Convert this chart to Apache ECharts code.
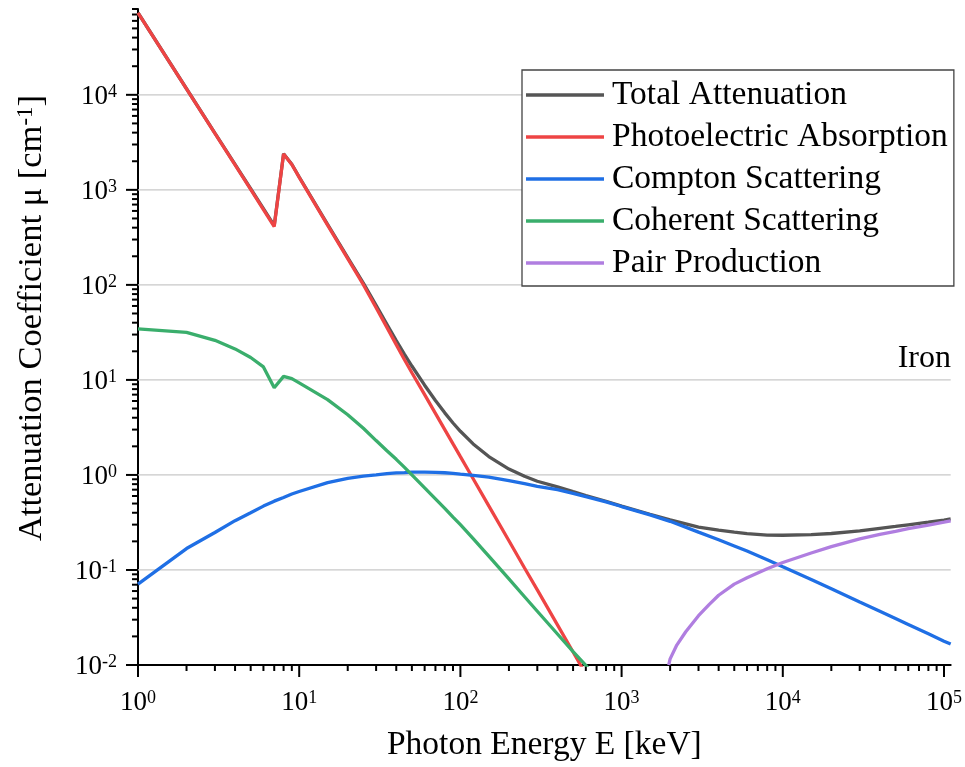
<!DOCTYPE html>
<html><head><meta charset="utf-8">
<script src="https://cdn.jsdelivr.net/npm/echarts@6/dist/echarts.min.js"></script>
<style>html,body{margin:0;padding:0;background:#fff}#c{width:965px;height:767px}</style>
</head><body><div id="c"></div>
<script>
const energy = [1,2,3,4,5,6,7,8,9,10,15,20,25,30,35,40,45,50,60,70,80,90,100,120,150,200,250,300,400,500,600,800,
  1000,1500,2000,3000,4000,5000,6000,8000,10000,15000,20000,30000,40000,50000,60000,80000,100000,110000];
const total = [73034,11582,3956,1851,1027,635,420,2401,1861,1365,433,194,104.6,60.8,38.5,26.0,18.6,14.0,8.8,6.08,4.5,3.52,2.88,2.12,1.56,1.154,0.967,0.858,0.748,0.667,0.608,0.529,
  0.469,0.386,0.337,0.283,0.262,0.250,0.241,0.233,0.232,0.236,0.242,0.258,0.274,0.287,0.299,0.318,0.335,0.345];
const photo = [73000,11550,3930,1830,1010,621,411,2390,1850,1355,426,189,100.5,57.5,35.7,23.5,16.3,11.9,7.0,4.45,3.0,2.12,1.556,0.912,0.473,0.203,0.105,0.0617,0.0264,0.0137,0.0080,null,
  null,null,null,null,null,null,null,null,null,null,null,null,null,null,null,null,null,null];
const compton = [0.071,0.168,0.248,0.33,0.40,0.47,0.53,0.58,0.63,0.67,0.83,0.92,0.97,1.0,1.03,1.05,1.06,1.07,1.07,1.065,1.055,1.04,1.02,0.99,0.95,0.87,0.81,0.76,0.70,0.64,0.59,0.52,
  0.465,0.38,0.325,0.25,0.208,0.179,0.158,0.128,0.108,0.0795,0.0634,0.046,0.0367,0.0308,0.0267,0.0213,0.0178,0.0166];
const coherent = [34.4,31.7,26.1,21.2,17.2,13.7,8.26,10.9,10.3,9.3,6.2,4.3,3.1,2.3,1.8,1.46,1.2,1.0,0.73,0.56,0.445,0.36,0.30,0.214,0.140,0.0805,0.0523,0.0368,0.0212,0.0138,0.0099,0.0057,
  null,null,null,null,null,null,null,null,null,null,null,null,null,null,null,null,null,null];
const pairEnergy = [1960,2000,2200,2500,3000,3500,4000,5000,6000,8000,10000,15000,20000,30000,40000,50000,60000,80000,100000,110000];
const pair = [0.0100,0.0116,0.0162,0.0224,0.033,0.0434,0.0542,0.071,0.083,0.103,0.120,0.151,0.176,0.212,0.237,0.255,0.272,0.297,0.318,0.328];

const seriesNames = ['Total Attenuation','Photoelectric Absorption','Compton Scattering','Coherent Scattering','Pair Production'];
const seriesColors = ['#555555','#ee4444','#1f6fe5','#3aae6c','#b07ee0'];

const X_MIN = 1, X_MAX = 110000, Y_MIN = 0.01, Y_MAX = 80000;
const xMajorTicks = [1,10,100,1000,10000,100000];
const yMajorTicks = [0.01,0.1,1,10,100,1000,10000];
const xMinorTicks = [], yMinorTicks = [];
xMajorTicks.forEach(d => { for (let m = 2; m <= 9; m++) { const v = m * d; if (v <= X_MAX) xMinorTicks.push(v); } });
yMajorTicks.forEach(d => { for (let m = 2; m <= 9; m++) { const v = +(m * d).toPrecision(3); if (v <= Y_MAX * 1.0001) yMinorTicks.push(v); } });
const yGridValues = [0.1,1,10,100,1000,10000];

const FONT = 'Liberation Serif';

function pairs(xs, ys) {
  const out = [];
  xs.forEach((x, i) => { if (ys[i] != null) out.push([x, ys[i]]); });
  return out;
}
function powLabel(v) {
  const e = Math.log10(v);
  const r = Math.round(e);
  if (Math.abs(e - r) > 1e-6) return '';
  return '{b|10}{s|' + r + '}';
}
const labelRich = {
  b: { fontSize: 27, lineHeight: 28, fontFamily: FONT, color: '#000' },
  s: { fontSize: 18, lineHeight: 18, verticalAlign: 'top', fontFamily: FONT, color: '#000' }
};

const lineData = [pairs(energy, total), pairs(energy, photo), pairs(energy, compton), pairs(energy, coherent), pairs(pairEnergy, pair)];

const chart = echarts.init(document.getElementById('c'), null, { renderer: 'canvas' });
chart.setOption({
  animation: false,
  backgroundColor: '#fff',
  grid: { left: 138, right: 12, top: 9, bottom: 101, containLabel: false },
  xAxis: {
    type: 'log', logBase: 10, min: X_MIN, max: X_MAX,
    name: 'Photon Energy E [keV]', nameLocation: 'middle', nameGap: 63,
    nameTextStyle: { fontFamily: FONT, fontSize: 33.5, color: '#000' },
    axisLine: { show: true, onZero: false, lineStyle: { color: '#000', width: 2 } },
    axisTick: { show: false }, minorTick: { show: false },
    splitLine: { show: false },
    axisLabel: { margin: 24, formatter: powLabel, rich: labelRich }
  },
  yAxis: {
    type: 'log', logBase: 10, min: Y_MIN, max: Y_MAX,
    axisLine: { show: true, onZero: false, lineStyle: { color: '#000', width: 2 } },
    axisTick: { show: false }, minorTick: { show: false },
    splitLine: { show: false },
    axisLabel: { margin: 21, formatter: powLabel, rich: labelRich, padding: [4, 0, 0, 0] }
  },
  legend: {
    data: seriesNames, orient: 'vertical', left: 522, top: 70,
    padding: [8, 6, 6, 4], itemGap: 8, itemWidth: 78, itemHeight: 3.3, icon: 'rect',
    backgroundColor: '#fff', borderColor: '#444', borderWidth: 1.3, borderRadius: 0,
    selectedMode: false, z: 20,
    textStyle: { fontFamily: FONT, fontSize: 33.5, lineHeight: 33, color: '#000', padding: [0, 0, 0, 3] }
  },
  series: seriesNames.map((n, i) => ({
    name: n, type: 'line', data: lineData[i], symbol: 'none', showSymbol: false, z: 3 + i,
    smooth: false, color: seriesColors[i], lineStyle: { color: seriesColors[i], width: 3.3 }, clip: true
  }))
});

const px = (x, y) => chart.convertToPixel({ gridIndex: 0 }, [x, y]);
const elements = [];
yGridValues.forEach(v => {
  const a = px(X_MIN, v), b = px(X_MAX, v);
  elements.push({ type: 'line', z: 1, silent: true, shape: { x1: a[0], y1: a[1], x2: b[0], y2: b[1] }, style: { stroke: '#c8c8c8', lineWidth: 1.3 } });
});
function addTick(v, axis, len) {
  const p = axis === 'x' ? px(v, Y_MIN) : px(X_MIN, v);
  const shape = axis === 'x'
    ? { x: p[0] - 1, y: p[1], width: 2, height: len }
    : { x: p[0] - len, y: p[1] - 1, width: len, height: 2 };
  elements.push({ type: 'rect', z: 2, silent: true, shape, style: { fill: '#000' } });
}
xMajorTicks.forEach(v => addTick(v, 'x', 12));
xMinorTicks.forEach(v => addTick(v, 'x', 6));
yMajorTicks.forEach(v => addTick(v, 'y', 12));
yMinorTicks.forEach(v => addTick(v, 'y', 6));
elements.push({ type: 'text', x: 951, y: 359, z: 30,
  style: { text: 'Iron', fontFamily: FONT, fontSize: 32, fill: '#000', align: 'right', verticalAlign: 'middle' } });
elements.push({ type: 'text', x: 32, y: 318, rotation: Math.PI / 2, z: 30,
  style: { text: 'Attenuation Coefficient μ [cm{s|-1}]', fontFamily: FONT, fontSize: 34.5, fill: '#000',
    align: 'center', verticalAlign: 'middle',
    rich: { s: { fontSize: 23, lineHeight: 23, verticalAlign: 'top', fontFamily: FONT, fill: '#000' } } } });
chart.setOption({ graphic: { elements } });
</script>
</body></html>
